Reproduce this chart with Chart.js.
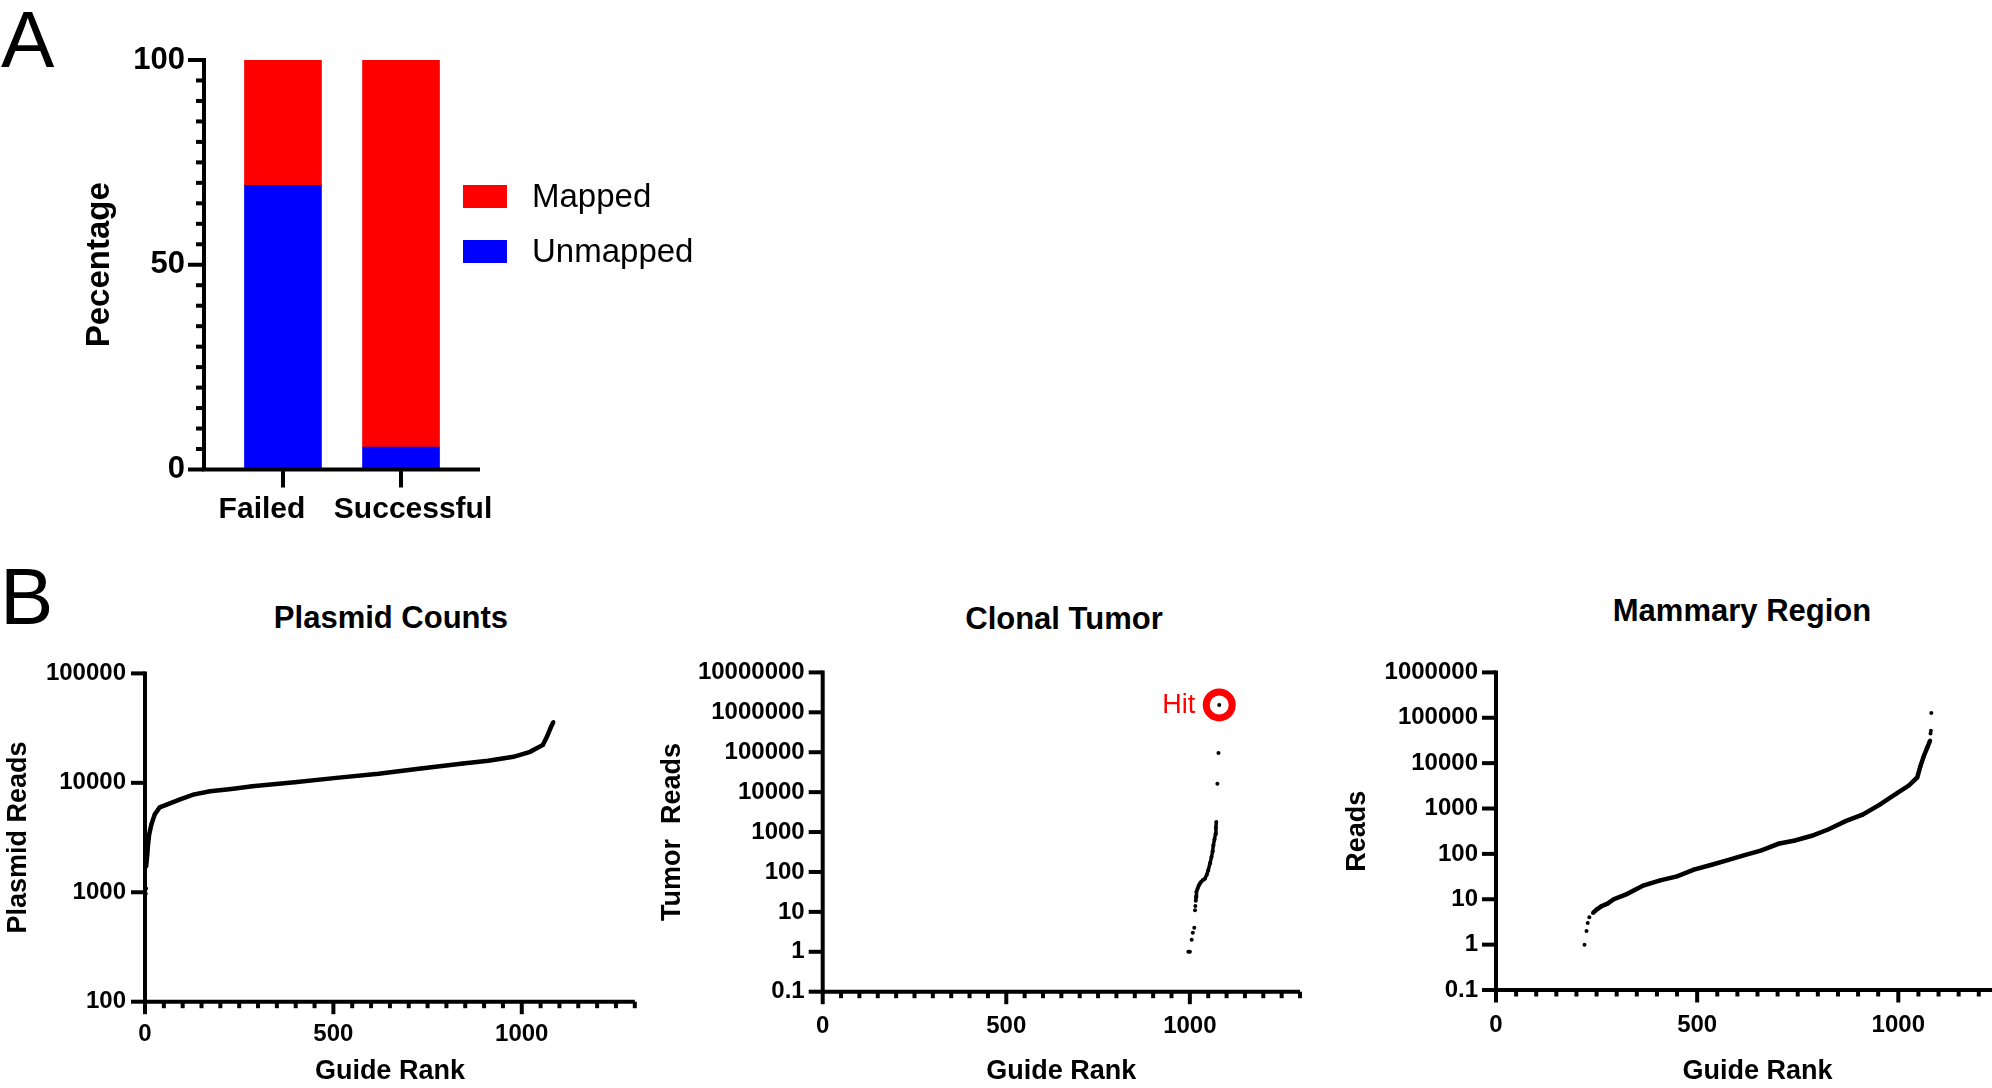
<!DOCTYPE html>
<html>
<head>
<meta charset="utf-8">
<title>Guide read counts</title>
<script src="https://cdn.jsdelivr.net/npm/chart.js@4.4.1/dist/chart.umd.min.js"></script>
<style>
  html, body { margin: 0; padding: 0; background: #fff; overflow: hidden; width: 1992px; height: 1088px; }
  body { position: relative; font-family: 'Liberation Sans', Arial, sans-serif; color: #000; }
  .box { position: absolute; }
  .letter { position: absolute; font-size: 80px; line-height: 80px; }
  .title { position: absolute; width: 400px; font-size: 31px; line-height: 31px; font-weight: bold; text-align: center; }
</style>
</head>
<body>
<div class="letter" style="left:1px; top:0px">A</div>
<div class="letter" style="left:0px; top:557px">B</div>
<div class="title" style="left:191px; top:602px">Plasmid Counts</div>
<div class="title" style="left:864px; top:603px">Clonal Tumor</div>
<div class="title" style="left:1542px; top:595px">Mammary Region</div>

<div class="box" style="left:0; top:0; width:700px; height:545px"><canvas id="mappingChart"></canvas></div>
<div class="box" style="left:0; top:640px; width:660px; height:448px"><canvas id="plasmidChart"></canvas></div>
<div class="box" style="left:640px; top:640px; width:680px; height:448px"><canvas id="tumorChart"></canvas></div>
<div class="box" style="left:1320px; top:640px; width:720px; height:448px"><canvas id="mammaryChart"></canvas></div>

<script>
// ---- panel A data ----
const categories = ['Failed', 'Successful'];
const unmappedPct = [69.4, 5.5];
const mappedPct = [30.6, 94.5];
const percentTicks = [0, 5, 10, 15, 20, 25, 30, 35, 40, 45, 50, 55, 60, 65, 70, 75, 80, 85, 90, 95, 100];

// ---- panel B data ----
const rankTicks = [0, 50, 100, 150, 200, 250, 300, 350, 400, 450, 500, 550, 600, 650, 700,
                   750, 800, 850, 900, 950, 1000, 1050, 1100, 1150, 1200, 1250, 1300];
const plasmidTicks = [100, 1000, 10000, 100000];
const tumorTicks = [0.1, 1, 10, 100, 1000, 10000, 100000, 1000000, 10000000];
const mammaryTicks = [0.1, 1, 10, 100, 1000, 10000, 100000, 1000000];

const plasmidLowRank = [2, 3, 3];
const plasmidLowReads = [970, 1080, 1720];
const plasmidRank = [3, 6, 8, 11, 17, 26, 39, 61, 95, 128, 173, 229, 285, 397, 508, 620,
                     732, 844, 911, 978, 1022, 1056, 1067, 1078, 1084];
const plasmidReads = [1720, 2200, 2720, 3370, 4170, 5160, 5960, 6400, 7110, 7800, 8380, 8800,
                      9310, 10100, 11100, 12100, 13500, 15000, 15900, 17300, 19200, 22200,
                      26500, 32700, 35900];

const tumorLowRank = [996, 1000, 1005, 1008, 1012, 1014, 1015];
const tumorLowReads = [1, 1, 2, 3, 4, 11, 14];
const tumorRank = [1016, 1017, 1018, 1021, 1024, 1027, 1031, 1036, 1041, 1046, 1050, 1055,
                   1059, 1062, 1064, 1067, 1070, 1071, 1072];
const tumorReads = [19, 24, 32, 38, 45, 51, 57, 63, 68, 85, 110, 165, 237, 330, 465, 650,
                    910, 1300, 1780];
const tumorHighRank = [1075, 1078];
const tumorHighReads = [16200, 96000];
const hitRank = [1080];
const hitReads = [1530000];

const mammaryLowRank = [220, 225, 228, 232];
const mammaryLowReads = [1, 2, 3, 4];
const mammaryRank = [241, 251, 262, 277, 293, 325, 366, 408, 450, 492, 534, 576, 618, 660,
                     702, 743, 785, 827, 869, 911, 953, 995, 1026, 1047, 1055, 1063, 1073, 1079];
const mammaryReads = [5, 6, 7, 8, 10, 13, 20, 26, 32, 45, 57, 73, 94, 120, 167, 197, 251,
                      349, 526, 731, 1200, 2125, 3200, 4830, 8580, 14000, 23000, 31600];
const mammaryHighRank = [1080, 1081, 1082];
const mammaryHighReads = [45000, 52000, 128000];

Chart.defaults.font.family = "'Liberation Sans', Arial, sans-serif";
Chart.defaults.color = '#000';

const RED = '#FF0000';
const BLUE = '#0000FF';

function points(xs, ys) {
    return xs.map((x, i) => ({ x: x, y: ys[i] }));
}

function isMajor(v, step) {
    if (!step) return true;
    const q = v / step;
    return Math.abs(q - Math.round(q)) < 1e-6;
}

// Prism style axes: thick lines, outward ticks, short minor ticks
const prismAxes = {
    id: 'prismAxes',
    afterDatasetsDraw(chart, args, o) {
        const { ctx, chartArea: a } = chart;
        const xs = chart.scales.x;
        const ys = chart.scales.y;
        const w = o.lineWidth;
        ctx.save();
        ctx.strokeStyle = '#000';
        ctx.lineWidth = w;
        ctx.lineCap = 'butt';
        ys.ticks.forEach(t => {
            const y = ys.getPixelForValue(t.value);
            const len = isMajor(t.value, o.yMajorStep) ? o.yMajorLen : o.yMinorLen;
            ctx.beginPath();
            ctx.moveTo(a.left, y);
            ctx.lineTo(a.left - len, y);
            ctx.stroke();
        });
        // bar panels get their x marks under the bars, other panels at every tick
        const xMarks = o.marksAtBars
            ? chart.getDatasetMeta(0).data.map(el => ({ x: el.x, major: true }))
            : xs.ticks.map(t => ({ x: xs.getPixelForValue(t.value), major: isMajor(t.value, o.xMajorStep) }));
        xMarks.forEach(m => {
            const len = m.major ? o.xMajorLen : o.xMinorLen;
            ctx.beginPath();
            ctx.moveTo(m.x, a.bottom);
            ctx.lineTo(m.x, a.bottom + len);
            ctx.stroke();
        });
        ctx.beginPath();
        ctx.moveTo(a.left, a.top - w / 2);
        ctx.lineTo(a.left, a.bottom + w / 2);
        ctx.moveTo(a.left - w / 2, a.bottom);
        ctx.lineTo(a.right, a.bottom);
        ctx.stroke();
        ctx.restore();
    }
};

// legend to the right of the stacked bars
const sideLegend = {
    id: 'sideLegend',
    afterDraw(chart, args, o) {
        if (!o.show) return;
        const ctx = chart.ctx;
        const items = chart.data.datasets.slice().reverse();
        ctx.save();
        ctx.font = o.size + 'px ' + Chart.defaults.font.family;
        ctx.textBaseline = 'middle';
        items.forEach((ds, i) => {
            const y = o.top + i * o.gap;
            ctx.fillStyle = ds.backgroundColor;
            ctx.fillRect(o.x, y, o.boxW, o.boxH);
            ctx.fillStyle = '#000';
            ctx.fillText(ds.label, o.textX, y + o.boxH / 2 + 1.5);
        });
        ctx.restore();
    }
};

// text note beside one point (the "Hit")
const pointNote = {
    id: 'pointNote',
    afterDatasetsDraw(chart, args, o) {
        if (!o.text) return;
        const el = chart.getDatasetMeta(o.dataset).data[0];
        if (!el) return;
        const ctx = chart.ctx;
        ctx.save();
        ctx.font = o.size + 'px ' + Chart.defaults.font.family;
        ctx.fillStyle = o.color;
        ctx.textAlign = 'right';
        ctx.textBaseline = 'middle';
        ctx.fillText(o.text, el.x + o.dx, el.y + o.dy);
        ctx.restore();
    }
};

// ---------- panel A ----------
// the category labels sit a little apart from the bar centres, as in the figure
const labelShift = [-0.178, 0.102];

new Chart(document.getElementById('mappingChart'), {
    type: 'bar',
    data: {
        datasets: [
            { label: 'Unmapped', data: points([0, 1], unmappedPct), backgroundColor: BLUE, borderWidth: 0, barThickness: 77 },
            { label: 'Mapped', data: points([0, 1], mappedPct), backgroundColor: RED, borderWidth: 0, barThickness: 77 }
        ]
    },
    options: {
        responsive: true,
        maintainAspectRatio: false,
        animation: false,
        layout: { padding: { left: 0, top: 60, right: 220, bottom: 0 } },
        plugins: {
            legend: { display: false },
            tooltip: { enabled: false },
            prismAxes: { lineWidth: 4, yMajorStep: 50, yMajorLen: 16, yMinorLen: 8, marksAtBars: true, xMajorLen: 18, xMinorLen: 18 },
            sideLegend: { show: true, x: 463, top: 185, gap: 55, boxW: 44, boxH: 23, textX: 532, size: 33 }
        },
        scales: {
            x: {
                type: 'linear',
                stacked: true,
                offset: false,
                min: -0.669,
                max: 1.669,
                grid: { display: false, drawTicks: false, offset: false },
                border: { display: false },
                afterBuildTicks: s => { s.ticks = categories.map((c, i) => ({ value: i + labelShift[i] })); },
                afterFit: s => { s.height = 75.5; },
                ticks: {
                    autoSkip: false, maxRotation: 0, padding: 22,
                    font: { size: 30, weight: 'bold' },
                    callback: (v, i) => categories[i]
                }
            },
            y: {
                type: 'linear',
                stacked: true,
                min: 0,
                max: 100,
                grid: { display: false, drawTicks: false },
                border: { display: false },
                afterBuildTicks: s => { s.ticks = percentTicks.map(v => ({ value: v })); },
                afterFit: s => { s.width = 204; },
                ticks: {
                    autoSkip: false, padding: 19,
                    font: { size: 31, weight: 'bold' },
                    callback: v => (v % 50 === 0 ? String(v) : '')
                },
                title: { display: true, text: 'Pecentage', font: { size: 33, weight: 'bold' }, padding: { top: 80, bottom: 0 } }
            }
        }
    },
    plugins: [prismAxes, sideLegend]
});

// ---------- panel B ----------
function rankAxis(height, labelPad) {
    return {
        type: 'linear',
        min: 0,
        max: 1300,
        grid: { display: false, drawTicks: false },
        border: { display: false },
        afterBuildTicks: s => { s.ticks = rankTicks.map(v => ({ value: v })); },
        afterFit: s => { s.height = height; },
        ticks: {
            autoSkip: false, maxRotation: 0, padding: labelPad,
            font: { size: 24, weight: 'bold' },
            callback: v => (v % 500 === 0 ? String(v) : '')
        },
        title: { display: true, text: 'Guide Rank', font: { size: 27, weight: 'bold' }, padding: { top: 0, bottom: 0 } }
    };
}

function readsAxis(tickList, width, labelPad, titleText, titlePad) {
    return {
        type: 'logarithmic',
        min: tickList[0],
        max: tickList[tickList.length - 1],
        grid: { display: false, drawTicks: false },
        border: { display: false },
        afterBuildTicks: s => { s.ticks = tickList.map(v => ({ value: v, major: true })); },
        afterFit: s => { s.width = width; },
        ticks: {
            autoSkip: false, padding: labelPad,
            font: { size: 24, weight: 'bold' },
            callback: v => String(v)
        },
        title: { display: true, text: titleText, font: { size: 27, weight: 'bold' }, padding: { top: titlePad, bottom: 0 } }
    };
}

function dotSet(xs, ys) {
    return { data: points(xs, ys), showLine: false, pointRadius: 2, pointBackgroundColor: '#000', pointBorderWidth: 0 };
}

function curveSet(xs, ys, width) {
    return {
        data: points(xs, ys), showLine: true, borderColor: '#000', borderWidth: width,
        pointRadius: 2, pointBackgroundColor: '#000', pointBorderWidth: 0, tension: 0
    };
}

function baseOptions(padding, xAxis, yAxis, note) {
    return {
        responsive: true,
        maintainAspectRatio: false,
        animation: false,
        layout: { padding: padding },
        plugins: {
            legend: { display: false },
            tooltip: { enabled: false },
            prismAxes: { lineWidth: 4, yMajorStep: 0, yMajorLen: 14, yMinorLen: 14, xMajorStep: 500, xMajorLen: 12.5, xMinorLen: 6.5 },
            pointNote: note || {}
        },
        scales: { x: xAxis, y: yAxis }
    };
}

new Chart(document.getElementById('plasmidChart'), {
    type: 'scatter',
    data: {
        datasets: [
            dotSet(plasmidLowRank, plasmidLowReads),
            curveSet(plasmidRank, plasmidReads, 4.5)
        ]
    },
    options: baseOptions({ left: 0, top: 31.7, right: 25.2, bottom: 0 },
        rankAxis(86.3, 18),
        readsAxis(plasmidTicks, 145, 19, 'Plasmid Reads', 2.8)),
    plugins: [prismAxes]
});

new Chart(document.getElementById('tumorChart'), {
    type: 'scatter',
    data: {
        datasets: [
            dotSet(tumorLowRank, tumorLowReads),
            curveSet(tumorRank, tumorReads, 3.5),
            dotSet(tumorHighRank, tumorHighReads),
            {
                data: points(hitRank, hitReads), showLine: false, pointRadius: 13,
                pointBorderWidth: 7, pointBorderColor: RED, pointBackgroundColor: 'rgba(0,0,0,0)'
            },
            dotSet(hitRank, hitReads)
        ]
    },
    options: baseOptions({ left: 0, top: 31.7, right: 15, bottom: 0 },
        rankAxis(96.3, 20),
        readsAxis(tumorTicks, 182.7, 18, 'Tumor  Reads', 16.8),
        { dataset: 3, text: 'Hit', dx: -24, dy: 1, size: 27, color: RED }),
    plugins: [prismAxes, pointNote]
});

new Chart(document.getElementById('mammaryChart'), {
    type: 'scatter',
    data: {
        datasets: [
            dotSet(mammaryLowRank, mammaryLowReads),
            curveSet(mammaryRank, mammaryReads, 4.5),
            dotSet(mammaryHighRank, mammaryHighReads)
        ]
    },
    options: baseOptions({ left: 0, top: 23.3, right: 13.6, bottom: 0 },
        rankAxis(98, 21),
        readsAxis(mammaryTicks, 176, 18, 'Reads', 21.3)),
    plugins: [prismAxes]
});
</script>
</body>
</html>
